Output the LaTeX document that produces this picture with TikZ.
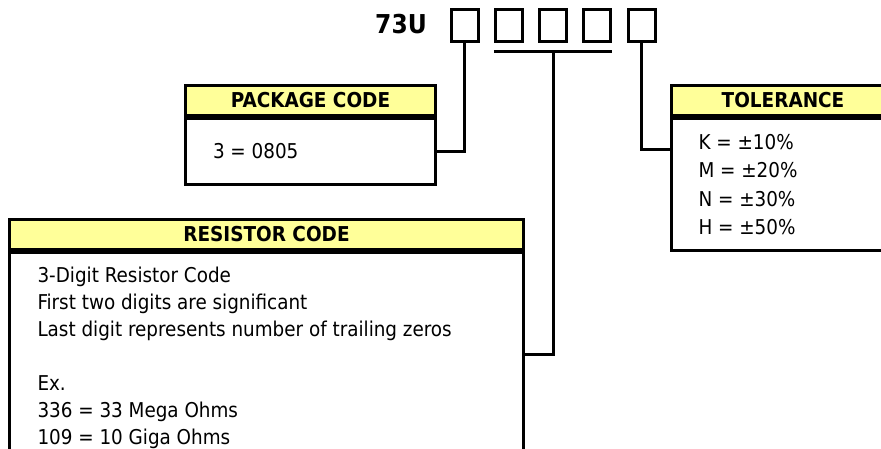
\documentclass[tikz,border=0pt]{standalone}
\usepackage{fontspec}
\setmainfont{DejaVu Sans Condensed}
\usetikzlibrary{positioning}
\definecolor{hdryellow}{HTML}{FFFF99}

\begin{document}
\begin{tikzpicture}[x=1pt, y=-1pt, line width=3pt,
    digit/.style={draw, minimum width=27pt, minimum height=32pt, inner sep=0pt},
    hdr/.style={draw, fill=hdryellow, minimum height=30pt, inner sep=0pt, font=\fontsize{20.5}{24}\selectfont\bfseries},
    panel/.style={draw, fill=white, inner sep=0pt},
    txt/.style={align=left, inner sep=0pt, font=\fontsize{20.4}{27}\selectfont}]
	\useasboundingbox (0,0) rectangle (881,449);
	\clip (0,0) rectangle (881,449);
	
	% 型号前缀与代码位
	\node[font=\fontsize{26}{30}\selectfont\bfseries] (prefix) at (401,24) {73U};
	\node[digit] (d1) at (464.5,25.5) {};
	\node[digit, right=14.25pt of d1] (d2) {};
	\node[digit, right=14.25pt of d2] (d3) {};
	\node[digit, right=14.25pt of d3] (d4) {};
	\node[digit, right=14.25pt of d4] (d5) {};
	
	% 封装代码
	\node[hdr, minimum width=250pt] (pkghead) at (310.5,100.5) {PACKAGE CODE};
	\node[panel, minimum width=250pt, minimum height=66pt, below=0pt of pkghead] (pkgbody) {};
	\node[txt, anchor=west] (pkgtext) at ([xshift=27.5pt]pkgbody.west) {3 = 0805};
	
	% 公差
	\node[hdr, minimum width=223pt] (tolhead) at (783,100.5) {TOLERANCE};
	\node[panel, minimum width=223pt, minimum height=132pt, below=0pt of tolhead] (tolbody) {};
	\node[txt, font=\fontsize{20.4}{28.3}\selectfont, anchor=north west] (toltext) at ([xshift=27pt, yshift=-16pt]tolbody.north west)
		{K = ±10\%\\M = ±20\%\\N = ±30\%\\H = ±50\%};
	
	% 电阻代码
	\node[hdr, minimum width=514pt] (reshead) at (266.5,234.5) {RESISTOR CODE};
	\node[panel, minimum width=514pt, minimum height=250pt, below=0pt of reshead] (resbody) {};
	\node[txt, anchor=north west] (restext) at ([xshift=28pt, yshift=-14pt]resbody.north west)
		{3-Digit Resistor Code\\First two digits are significant\\Last digit represents number of trailing zeros\\[27pt]Ex.\\336 = 33 Mega Ohms\\109 = 10 Giga Ohms};
	
	% 连线
	\coordinate (barL) at ([yshift=-9pt]d2.south west);
	\coordinate (barR) at ([yshift=-9pt]d4.south east);
	\draw (barL) -- (barR);
	\draw (d1.south) |- (pkgbody.east);
	\draw (d3.south |- barL) |- ([yshift=-103pt]resbody.north east);
	\draw (d5.south) |- ([yshift=-33pt]tolbody.north west);
\end{tikzpicture}
\end{document}
